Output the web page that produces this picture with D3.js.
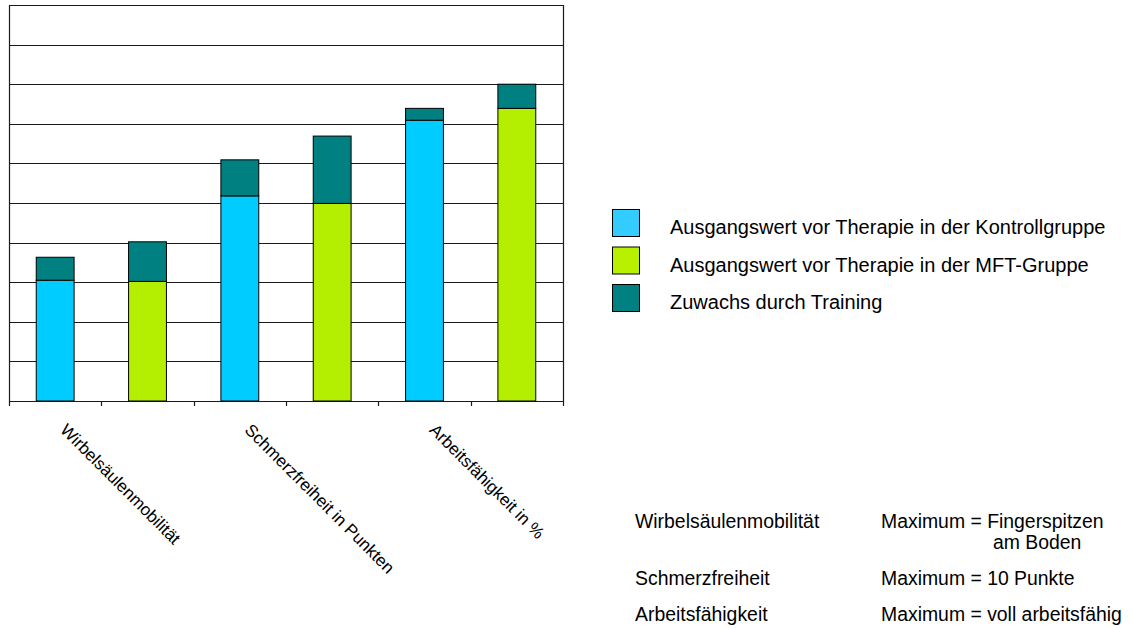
<!DOCTYPE html>
<html>
<head>
<meta charset="utf-8">
<script src="https://cdn.jsdelivr.net/npm/d3@7"></script>
<style>
  body { margin: 0; background: #fff; }
  text { font-family: Arial, "Liberation Sans", sans-serif; fill: #000; }
</style>
</head>
<body>
<script>
// categories and values (percent of the maximum)
var categories = ["Wirbelsäulenmobilität", "Schmerzfreiheit in Punkten", "Arbeitsfähigkeit in %"];
var groups = ["Kontrollgruppe", "MFT-Gruppe"];
var kontrollBase = [30.5, 51.8, 70.9];
var kontrollGain = [5.8, 9.1, 3.0];
var mftBase = [30.2, 49.9, 73.9];
var mftGain = [10.0, 17.0, 6.1];

var legendLabels = [
    "Ausgangswert vor Therapie in der Kontrollgruppe",
    "Ausgangswert vor Therapie in der MFT-Gruppe",
    "Zuwachs durch Training"
];
var notes = [
    ["Wirbelsäulenmobilität", "Maximum = Fingerspitzen", "am Boden"],
    ["Schmerzfreiheit", "Maximum = 10 Punkte"],
    ["Arbeitsfähigkeit", "Maximum = voll arbeitsfähig"]
];

var colorKontroll = "#00CCFF";
var colorMft = "#B4EE00";
var colorGain = "#008080";

var width = 1133, height = 629;
var plot = {left: 9, right: 563, top: 5, bottom: 401};

var svg = d3.select("body").append("svg")
    .attr("width", width)
    .attr("height", height);

// one bar per category and group
var bars = [];
categories.forEach(function(c, i) {
    bars.push({cat: c, key: c + "|" + groups[0], base: kontrollBase[i], gain: kontrollGain[i], color: colorKontroll, label: c});
    bars.push({cat: c, key: c + "|" + groups[1], base: mftBase[i], gain: mftGain[i], color: colorMft, label: ""});
});

var x = d3.scaleBand()
    .domain(bars.map(function(d) { return d.key; }))
    .range([plot.left, plot.right])
    .padding(0);

var y = d3.scaleLinear()
    .domain([0, 100])
    .range([plot.bottom, plot.top]);

var barWidth = x.bandwidth() * 0.41;

// gridlines
svg.append("g")
    .selectAll("line")
    .data(y.ticks(10))
    .enter().append("line")
    .attr("x1", plot.left)
    .attr("x2", plot.right)
    .attr("y1", function(d) { return Math.round(y(d)) + 0.5; })
    .attr("y2", function(d) { return Math.round(y(d)) + 0.5; })
    .attr("stroke", "#1a1a1a")
    .attr("stroke-width", 1.2);

// left and right border
svg.append("line")
    .attr("x1", plot.left + 0.5).attr("x2", plot.left + 0.5)
    .attr("y1", plot.top).attr("y2", plot.bottom + 5)
    .attr("stroke", "#1a1a1a").attr("stroke-width", 1.2);
svg.append("line")
    .attr("x1", plot.right + 0.5).attr("x2", plot.right + 0.5)
    .attr("y1", plot.top).attr("y2", plot.bottom + 5)
    .attr("stroke", "#1a1a1a").attr("stroke-width", 1.2);

// category tick marks below the axis
svg.append("g")
    .selectAll("line")
    .data(bars.slice(1))
    .enter().append("line")
    .attr("x1", function(d) { return Math.round(x(d.key)) + 0.5; })
    .attr("x2", function(d) { return Math.round(x(d.key)) + 0.5; })
    .attr("y1", plot.bottom)
    .attr("y2", plot.bottom + 5)
    .attr("stroke", "#1a1a1a")
    .attr("stroke-width", 1.2);

var barG = svg.append("g")
    .selectAll("g")
    .data(bars)
    .enter().append("g");

barG.append("rect")
    .attr("x", function(d) { return x(d.key) + (x.bandwidth() - barWidth) / 2; })
    .attr("y", function(d) { return y(d.base); })
    .attr("width", barWidth)
    .attr("height", function(d) { return y(0) - y(d.base); })
    .attr("fill", function(d) { return d.color; })
    .attr("stroke", "#000")
    .attr("stroke-width", 1);

barG.append("rect")
    .attr("x", function(d) { return x(d.key) + (x.bandwidth() - barWidth) / 2; })
    .attr("y", function(d) { return y(d.base + d.gain); })
    .attr("width", barWidth)
    .attr("height", function(d) { return y(d.base) - y(d.base + d.gain); })
    .attr("fill", colorGain)
    .attr("stroke", "#000")
    .attr("stroke-width", 1);

// rotated category labels
svg.append("g")
    .selectAll("text")
    .data(bars.filter(function(d) { return d.label; }))
    .enter().append("text")
    .attr("transform", function(d) {
        return "translate(" + (x(d.key) + x.bandwidth() / 2 + 4) + "," + 431 + ") rotate(45)";
    })
    .style("font-size", "17px")
    .text(function(d) { return d.label; });

// legend
var legendColors = ["#33CCFF", "#B8F000", colorGain];
var legend = svg.append("g")
    .selectAll("g")
    .data(legendLabels)
    .enter().append("g")
    .attr("transform", function(d, i) { return "translate(612," + (209 + i * 37.5) + ")"; });

legend.append("rect")
    .attr("x", 0.5).attr("y", 0.5)
    .attr("width", 27).attr("height", 27)
    .attr("fill", function(d, i) { return legendColors[i]; })
    .attr("stroke", "#000")
    .attr("stroke-width", 1);

legend.append("text")
    .attr("x", 58)
    .attr("y", 25)
    .style("font-size", "20px")
    .text(function(d) { return d; });

// notes on the maxima
var noteY = [528, 585, 621];
notes.forEach(function(n, i) {
    svg.append("text")
        .attr("x", 635).attr("y", noteY[i])
        .style("font-size", "19.4px")
        .text(n[0]);
    svg.append("text")
        .attr("x", 881).attr("y", noteY[i])
        .style("font-size", "19.4px")
        .text(n[1]);
    if (n[2]) {
        svg.append("text")
            .attr("x", 993).attr("y", noteY[i] + 21)
            .style("font-size", "19.4px")
            .text(n[2]);
    }
});
</script>
</body>
</html>
